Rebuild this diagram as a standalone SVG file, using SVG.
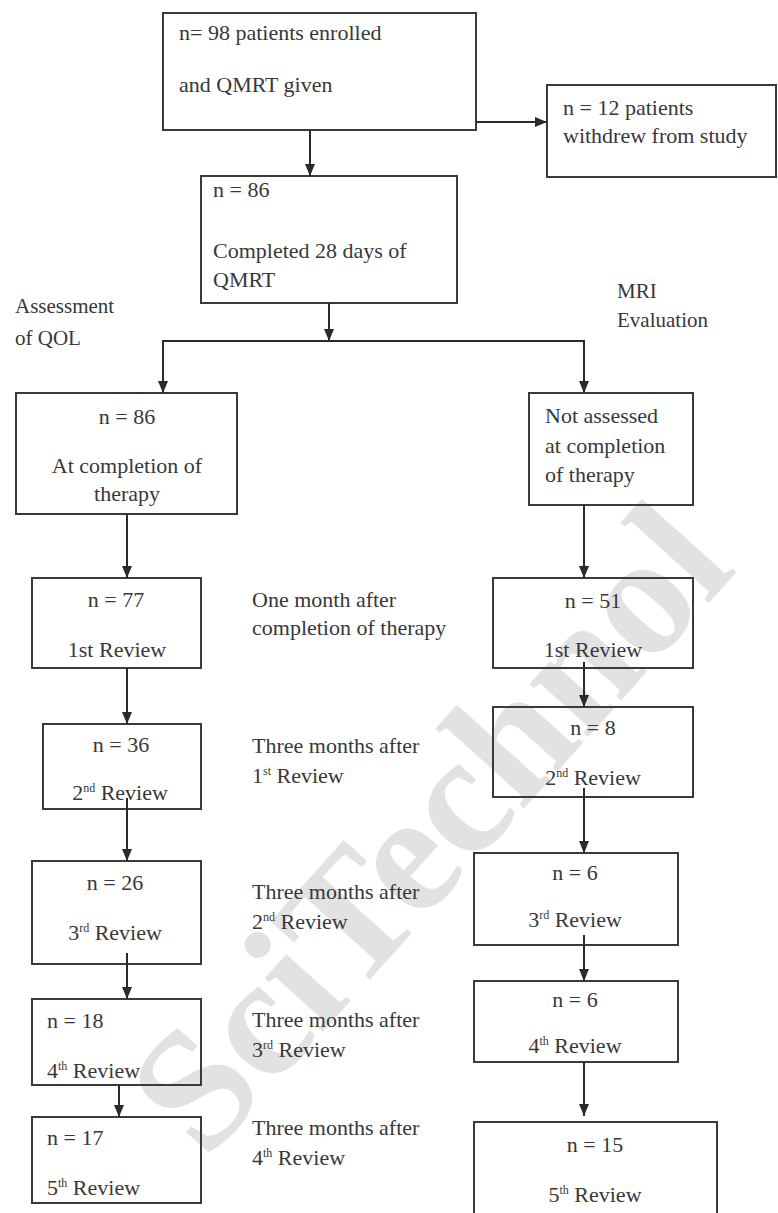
<svg xmlns="http://www.w3.org/2000/svg" width="778" height="1213" viewBox="0 0 778 1213">
<style>
  .box{fill:none;stroke:#3a3a3a;stroke-width:2}
  .t{font-family:"Liberation Serif","Times New Roman",serif;font-size:22px;fill:#383838}
  .c{text-anchor:middle}
  .sup{font-size:12px}
  .line{fill:none;stroke:#2a2a2a;stroke-width:2}
  .wm{font-family:"Liberation Serif","Times New Roman",serif;font-weight:bold;font-size:172px;fill:#e2e2e2}
</style>
<defs>
  <marker id="arrow" viewBox="0 0 12 12" refX="12" refY="6" markerWidth="12" markerHeight="12" markerUnits="userSpaceOnUse" orient="auto">
    <path d="M0,1 L12,6 L0,11 z" fill="#2a2a2a"/>
  </marker>
</defs>
<rect width="778" height="1213" fill="#fff"/>
<text class="wm" x="472" y="866" text-anchor="middle" transform="rotate(-48 472 866)">SciTechnol</text>

<g id="n98">
  <rect class="box" x="163" y="13" width="313" height="117"/>
  <text class="t" x="179" y="40">n= 98 patients enrolled</text>
  <text class="t" x="179" y="92">and QMRT given</text>
</g>
<g id="n12">
  <rect class="box" x="547" y="85" width="229" height="92"/>
  <text class="t" x="563" y="115">n = 12 patients</text>
  <text class="t" x="563" y="143">withdrew from study</text>
</g>
<g id="n86">
  <rect class="box" x="201" y="176" width="256" height="127"/>
  <text class="t" x="213" y="197">n = 86</text>
  <text class="t" x="213" y="258">Completed 28 days of</text>
  <text class="t" x="213" y="287">QMRT</text>
</g>
<g id="label-qol">
  <text class="t" x="15" y="313" style="font-size:21px">Assessment</text>
  <text class="t" x="15" y="345" style="font-size:21px">of QOL</text>
</g>
<g id="label-mri">
  <text class="t" x="617" y="298" style="font-size:21px">MRI</text>
  <text class="t" x="617" y="327" style="font-size:21px">Evaluation</text>
</g>

<g id="qol-completion">
  <rect class="box" x="16" y="393" width="221" height="121"/>
  <text class="t c" x="127" y="424">n = 86</text>
  <text class="t c" x="127" y="473">At completion of</text>
  <text class="t c" x="127" y="501">therapy</text>
</g>
<g id="mri-completion">
  <rect class="box" x="529" y="393" width="164" height="112"/>
  <text class="t" x="545" y="423">Not assessed</text>
  <text class="t" x="545" y="453">at completion</text>
  <text class="t" x="545" y="482">of therapy</text>
</g>

<g id="qol-r1">
  <rect class="box" x="32" y="578" width="169" height="90"/>
  <text class="t c" x="116" y="607">n = 77</text>
  <text class="t c" x="117" y="657">1st Review</text>
</g>
<g id="mri-r1">
  <rect class="box" x="493" y="578" width="200" height="90"/>
  <text class="t c" x="593" y="608">n = 51</text>
  <text class="t c" x="593" y="657">1st Review</text>
</g>
<g id="int1">
  <text class="t" x="252" y="607">One month after</text>
  <text class="t" x="252" y="635">completion of therapy</text>
</g>

<g id="qol-r2">
  <rect class="box" x="43" y="724" width="158" height="85"/>
  <text class="t c" x="121" y="752">n = 36</text>
  <text class="t c" x="120" y="800">2<tspan class="sup" dy="-8">nd</tspan><tspan dy="8"> Review</tspan></text>
</g>
<g id="mri-r2">
  <rect class="box" x="493" y="707" width="200" height="90"/>
  <text class="t c" x="593" y="735">n = 8</text>
  <text class="t c" x="593" y="785">2<tspan class="sup" dy="-8">nd</tspan><tspan dy="8"> Review</tspan></text>
</g>
<g id="int2">
  <text class="t" x="252" y="753">Three months after</text>
  <text class="t" x="252" y="783">1<tspan class="sup" dy="-8">st</tspan><tspan dy="8"> Review</tspan></text>
</g>

<g id="qol-r3">
  <rect class="box" x="32" y="861" width="169" height="103"/>
  <text class="t c" x="115" y="890">n = 26</text>
  <text class="t c" x="115" y="940">3<tspan class="sup" dy="-8">rd</tspan><tspan dy="8"> Review</tspan></text>
</g>
<g id="mri-r3">
  <rect class="box" x="474" y="853" width="204" height="92"/>
  <text class="t c" x="575" y="880">n = 6</text>
  <text class="t c" x="575" y="927">3<tspan class="sup" dy="-8">rd</tspan><tspan dy="8"> Review</tspan></text>
</g>
<g id="int3">
  <text class="t" x="252" y="899">Three months after</text>
  <text class="t" x="252" y="929">2<tspan class="sup" dy="-8">nd</tspan><tspan dy="8"> Review</tspan></text>
</g>

<g id="qol-r4">
  <rect class="box" x="32" y="999" width="169" height="86"/>
  <text class="t" x="47" y="1028">n = 18</text>
  <text class="t" x="47" y="1078">4<tspan class="sup" dy="-8">th</tspan><tspan dy="8"> Review</tspan></text>
</g>
<g id="mri-r4">
  <rect class="box" x="474" y="981" width="204" height="81"/>
  <text class="t c" x="575" y="1007">n = 6</text>
  <text class="t c" x="575" y="1053">4<tspan class="sup" dy="-8">th</tspan><tspan dy="8"> Review</tspan></text>
</g>
<g id="int4">
  <text class="t" x="252" y="1027">Three months after</text>
  <text class="t" x="252" y="1057">3<tspan class="sup" dy="-8">rd</tspan><tspan dy="8"> Review</tspan></text>
</g>

<g id="qol-r5">
  <rect class="box" x="32" y="1117" width="169" height="86"/>
  <text class="t" x="47" y="1145">n = 17</text>
  <text class="t" x="47" y="1195">5<tspan class="sup" dy="-8">th</tspan><tspan dy="8"> Review</tspan></text>
</g>
<g id="mri-r5">
  <rect class="box" x="474" y="1122" width="243" height="100"/>
  <text class="t c" x="595" y="1152">n = 15</text>
  <text class="t c" x="595" y="1202">5<tspan class="sup" dy="-8">th</tspan><tspan dy="8"> Review</tspan></text>
</g>
<g id="int5">
  <text class="t" x="252" y="1135">Three months after</text>
  <text class="t" x="252" y="1165">4<tspan class="sup" dy="-8">th</tspan><tspan dy="8"> Review</tspan></text>
</g>

<g id="connectors">
  <line class="line" x1="310" y1="130" x2="310" y2="176" marker-end="url(#arrow)"/>
  <line class="line" x1="476" y1="122" x2="547" y2="122" marker-end="url(#arrow)"/>
  <line class="line" x1="329" y1="303" x2="329" y2="341" marker-end="url(#arrow)"/>
  <line class="line" x1="163" y1="341" x2="584" y2="341"/>
  <line class="line" x1="163" y1="340" x2="163" y2="393" marker-end="url(#arrow)"/>
  <line class="line" x1="584" y1="340" x2="584" y2="393" marker-end="url(#arrow)"/>
  <line class="line" x1="127" y1="514" x2="127" y2="578" marker-end="url(#arrow)"/>
  <line class="line" x1="584" y1="505" x2="584" y2="578" marker-end="url(#arrow)"/>
  <line class="line" x1="127" y1="668" x2="127" y2="724" marker-end="url(#arrow)"/>
  <line class="line" x1="584" y1="662" x2="584" y2="707" marker-end="url(#arrow)"/>
  <line class="line" x1="127" y1="798" x2="127" y2="861" marker-end="url(#arrow)"/>
  <line class="line" x1="584" y1="788" x2="584" y2="853" marker-end="url(#arrow)"/>
  <line class="line" x1="127" y1="953" x2="127" y2="999" marker-end="url(#arrow)"/>
  <line class="line" x1="584" y1="935" x2="584" y2="981" marker-end="url(#arrow)"/>
  <line class="line" x1="119" y1="1085" x2="119" y2="1117" marker-end="url(#arrow)"/>
  <line class="line" x1="584" y1="1062" x2="584" y2="1116" marker-end="url(#arrow)"/>
</g>
</svg>
